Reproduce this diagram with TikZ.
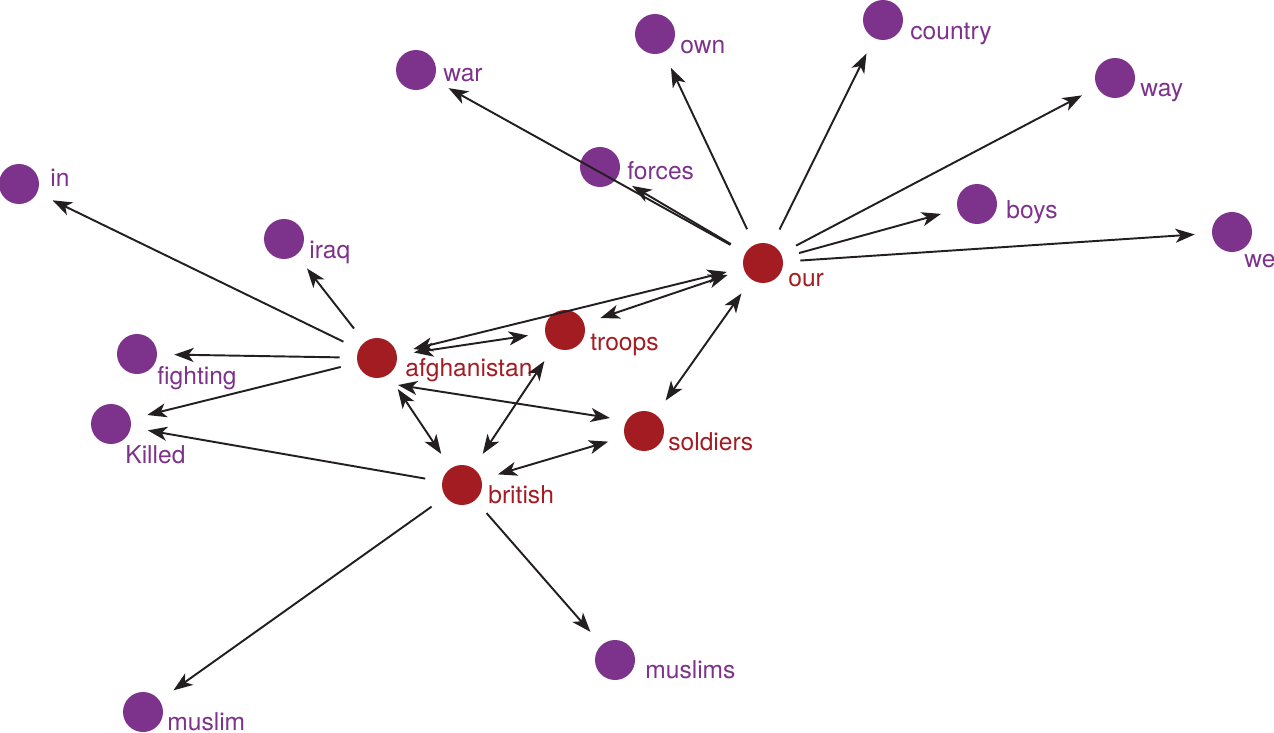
\documentclass[tikz,border=0pt]{standalone}
\usepackage{fontspec}
\setmainfont{TeX Gyre Heros}
\usetikzlibrary{arrows.meta}

\definecolor{wordpurple}{RGB}{125,50,140}
\definecolor{wordred}{RGB}{163,28,34}
\definecolor{edgeblack}{RGB}{35,31,32}

\tikzset{
  hub/.style={circle, fill=wordred, minimum size=0.8cm, inner sep=0pt},
  leaf/.style={circle, fill=wordpurple, minimum size=0.8cm, inner sep=0pt},
  hubtext/.style={anchor=base west, text=wordred, inner sep=0pt, font=\fontsize{14}{17}\selectfont},
  leaftext/.style={anchor=base west, text=wordpurple, inner sep=0pt, font=\fontsize{14}{17}\selectfont},
  link/.style={draw=edgeblack, line width=1.1pt, shorten >=0.34cm, shorten <=0.34cm,
    -{Stealth[length=11pt, width=8pt, inset=3pt]}},
  both/.style={link, {Stealth[length=11pt, width=8pt, inset=3pt]}-{Stealth[length=11pt, width=8pt, inset=3pt]}}
}

\begin{document}
\begin{tikzpicture}[x=0.02cm, y=-0.02cm]
  \useasboundingbox (0,0) rectangle (1274,733);

  % Define the central words
  \node[hub] (our) at (763,263) {};
  \node[hub] (troops) at (565,330) {};
  \node[hub] (afghanistan) at (377,358) {};
  \node[hub] (soldiers) at (644,431) {};
  \node[hub] (british) at (462,485) {};

  % Define the outer words
  \node[leaf] (war) at (416,70) {};
  \node[leaf] (own) at (655,34) {};
  \node[leaf] (country) at (883,20) {};
  \node[leaf] (way) at (1115,78) {};
  \node[leaf] (forces) at (600,167) {};
  \node[leaf] (boys) at (977,204) {};
  \node[leaf] (we) at (1232,232) {};
  \node[leaf] (in) at (19,184) {};
  \node[leaf] (iraq) at (284,239) {};
  \node[leaf] (fighting) at (137,354) {};
  \node[leaf] (killed) at (111,424) {};
  \node[leaf] (muslims) at (615,660) {};
  \node[leaf] (muslim) at (143,712) {};

  % Labels
  \node[hubtext] (our-text) at (788,286) {our};
  \node[hubtext] (troops-text) at (590,350) {troops};
  \node[hubtext] (afghanistan-text) at (405,376) {afghanistan};
  \node[hubtext] (soldiers-text) at (668,450) {soldiers};
  \node[hubtext] (british-text) at (488,503) {british};
  \node[leaftext] (war-text) at (443,82) {war};
  \node[leaftext] (own-text) at (680,54) {own};
  \node[leaftext] (country-text) at (910,40) {country};
  \node[leaftext] (way-text) at (1140,97) {way};
  \node[leaftext] (forces-text) at (627,180) {forces};
  \node[leaftext] (boys-text) at (1006,218) {boys};
  \node[leaftext] (we-text) at (1244,267) {we};
  \node[leaftext] (in-text) at (50,187) {in};
  \node[leaftext] (iraq-text) at (309,258) {iraq};
  \node[leaftext] (fighting-text) at (157,384) {fighting};
  \node[leaftext] (killed-text) at (125,463) {Killed};
  \node[leaftext] (muslims-text) at (645,678) {muslims};
  \node[leaftext] (muslim-text) at (167,730) {muslim};

  % Links out of our
  \foreach \t in {war, own, country, way, forces, boys, we}
    \draw[link] (our) -- (\t);

  % Links out of afghanistan
  \foreach \t in {in, iraq, fighting, killed}
    \draw[link] (afghanistan) -- (\t);

  % Links out of british
  \foreach \t in {killed, muslim, muslims}
    \draw[link] (british) -- (\t);

  % Links between the central words
  \draw[both] (our) -- (troops);
  \draw[both] (our) -- (afghanistan);
  \draw[both] (our) -- (soldiers);
  \draw[both] (afghanistan) -- (troops);
  \draw[both, shorten <=0pt, shorten >=0pt]
    ([shift={(21,27)}]afghanistan.center) -- ([shift={(-34,-13)}]soldiers.center);
  \draw[both] (afghanistan) -- (british);
  \draw[both] (troops) -- (british);
  \draw[both] (soldiers) -- (british);
\end{tikzpicture}
\end{document}
